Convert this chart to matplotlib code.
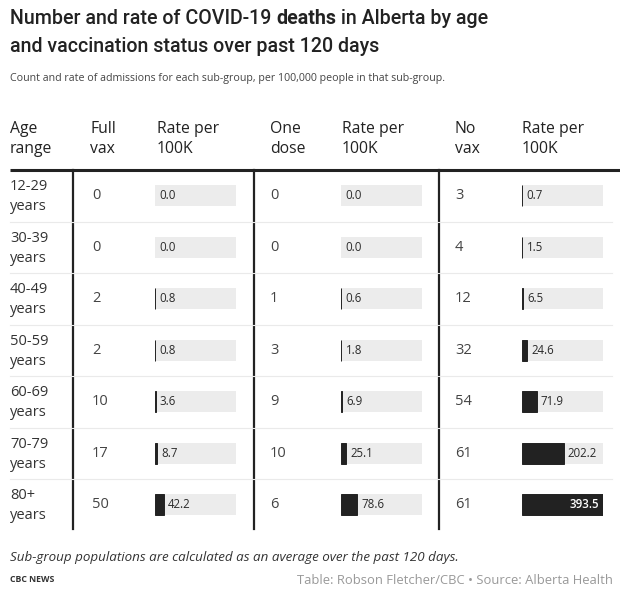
import matplotlib
matplotlib.use('Agg')
import matplotlib.pyplot as plt

plt.rcParams['font.family'] = ['Open Sans', 'DejaVu Sans']

# Table data
age_ranges = ["12-29\nyears", "30-39\nyears", "40-49\nyears", "50-59\nyears",
              "60-69\nyears", "70-79\nyears", "80+\nyears"]
full_vax_count = [0, 0, 2, 2, 10, 17, 50]
full_vax_rate = [0.0, 0.0, 0.8, 0.8, 3.6, 8.7, 42.2]
one_dose_count = [0, 0, 1, 3, 9, 10, 6]
one_dose_rate = [0.0, 0.0, 0.6, 1.8, 6.9, 25.1, 78.6]
no_vax_count = [3, 4, 12, 32, 54, 61, 61]
no_vax_rate = [0.7, 1.5, 6.5, 24.6, 71.9, 202.2, 393.5]
headers = ["Age\nrange", "Full\nvax", "Rate per\n100K", "One\ndose",
           "Rate per\n100K", "No\nvax", "Rate per\n100K"]

W, H = 620, 589
DARK = '#222222'
BAR_BG = '#ececec'
TITLE_FONT = ['Roboto', 'DejaVu Sans']

fig = plt.figure(figsize=(W / 100, H / 100), dpi=100)
ax = fig.add_axes([0, 0, 1, 1])
ax.set_xlim(0, W)
ax.set_ylim(H, 0)
ax.axis('off')

# Title with one bold word
fig.canvas.draw()
renderer = fig.canvas.get_renderer()
x = 10
for part, weight in [("Number and rate of COVID-19 ", 'medium'),
                     ("deaths", 'bold'),
                     (" in Alberta by age", 'medium')]:
    t = ax.text(x, 19, part, fontsize=14.1, fontweight=weight, color=DARK,
                va='center', ha='left', family=TITLE_FONT)
    bb = t.get_window_extent(renderer=renderer)
    x += bb.width
ax.text(10, 46, "and vaccination status over past 120 days", fontsize=14.1,
        fontweight='medium', color=DARK, va='center', ha='left', family=TITLE_FONT)
ax.text(10, 79, "Count and rate of admissions for each sub-group, per 100,000 people in that sub-group.",
        fontsize=7.65, color='#444444', va='center', ha='left')

# Column headers
header_x = [10, 90, 157, 270, 342, 455, 522]
for hx, label in zip(header_x, headers):
    ax.text(hx, 139, label, fontsize=11.3, color=DARK, va='center', ha='left',
            linespacing=1.4)

top, row_h = 170, 51.5
n = len(age_ranges)
bottom = top + n * row_h

ax.plot([10, 620], [top, top], color=DARK, lw=2.2, solid_capstyle='butt')
for vx in [73, 254, 439]:
    ax.plot([vx, vx], [top, bottom - 2], color=DARK, lw=1.6)
for i in range(1, n):
    y = top + i * row_h
    ax.plot([10, 612], [y, y], color='#eaeaea', lw=0.8)

# Row labels and counts
count_cols = [(92, full_vax_count), (270, one_dose_count), (455, no_vax_count)]
for i, label in enumerate(age_ranges):
    yc = top + (i + 0.5) * row_h
    ax.text(10, yc + 1, label, fontsize=10.5, color='#333333', va='center',
            ha='left', linespacing=1.45)
    for cx, counts in count_cols:
        ax.text(cx, yc, str(counts[i]), fontsize=10.5, color='#444444',
                va='center', ha='left')

# Rate bars, all on a common scale
rate_max = max(no_vax_rate)
rate_cols = [(155, full_vax_rate), (341, one_dose_rate), (522, no_vax_rate)]
bar_w = 81
for x0, rates in rate_cols:
    bax = fig.add_axes([x0 / W, 1 - bottom / H, bar_w / W, (bottom - top) / H])
    bax.set_xlim(0, rate_max)
    bax.set_ylim(n, 0)
    bax.axis('off')
    rows = [i + 0.5 for i in range(n)]
    bax.barh(rows, [rate_max] * n, height=0.41, color=BAR_BG, lw=0)
    for yv, v in zip(rows, rates):
        if v > 0:
            bax.barh(yv, v, height=0.41, color=DARK, edgecolor=DARK, lw=0.7)
        if v / rate_max > 0.75:
            bax.annotate(f"{v:.1f}", (v, yv), xytext=(-3, 0),
                         textcoords='offset points', ha='right', va='center',
                         fontsize=8.3, fontweight='semibold', color='white')
        else:
            bax.annotate(f"{v:.1f}", (v, yv), xytext=(3, 0),
                         textcoords='offset points', ha='left', va='center',
                         fontsize=8.3, fontweight='medium', color='#2a2a2a')

# Footer
ax.text(10, 557, "Sub-group populations are calculated as an average over the past 120 days.",
        fontsize=9.6, style='italic', color='#333333', va='center', ha='left')
ax.text(10, 580, "CBC NEWS", fontsize=6.3, fontweight='bold', color='#333333',
        va='center', ha='left')
ax.text(613, 580, "Table: Robson Fletcher/CBC \u2022 Source: Alberta Health",
        fontsize=9.4, color='#999999', va='center', ha='right')

fig.savefig('out.png', dpi=100)
